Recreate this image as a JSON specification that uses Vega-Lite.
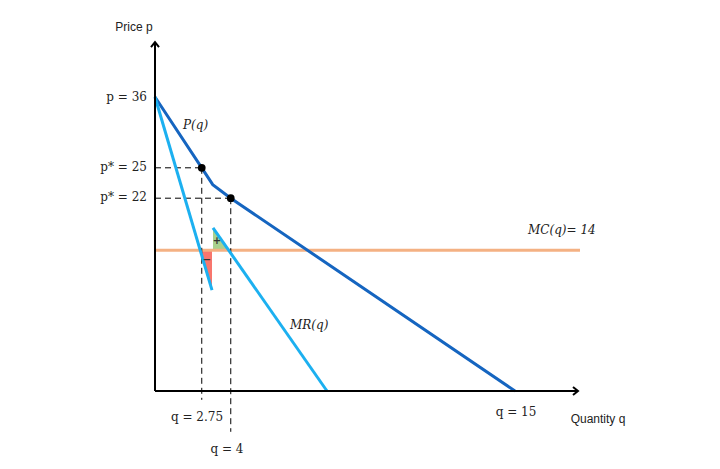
{
  "$schema": "https://vega.github.io/schema/vega-lite/v6.json",
  "width": 720,
  "height": 469,
  "autosize": "none",
  "padding": 0,
  "background": "white",
  "config": {"view": {"stroke": null}},
  "resolve": {"scale": {"color": "independent"}},
  "datasets": {
    "curves": [
      {"curve": "P", "i": 0, "q": 0, "p": 36.75},
      {"curve": "P", "i": 1, "q": 1.87, "p": 27.9},
      {"curve": "P", "i": 2, "q": 2.31, "p": 25.8},
      {"curve": "P", "i": 3, "q": 3.03, "p": 24.1},
      {"curve": "P", "i": 4, "q": 14.4, "p": 0},
      {"curve": "MR1", "i": 0, "q": 0, "p": 36.75},
      {"curve": "MR1", "i": 1, "q": 2.28, "p": 12.6},
      {"curve": "MR2", "i": 0, "q": 2.32, "p": 20.4},
      {"curve": "MR2", "i": 1, "q": 6.88, "p": 0}
    ],
    "mc": [
      {"q": 0, "p": 17.6},
      {"q": 17.0, "p": 17.6}
    ],
    "triangles": [
      {"tri": "loss", "q": 1.81, "p": 17.6, "p2": 17.6},
      {"tri": "loss", "q": 2.28, "p": 12.6, "p2": 17.6},
      {"tri": "gain", "q": 2.32, "p": 20.4, "p2": 17.6},
      {"tri": "gain", "q": 2.95, "p": 17.6, "p2": 17.6}
    ],
    "dashes": [
      {"q": 0, "p": 27.9, "q2": 1.87, "p2": 27.9},
      {"q": 0, "p": 24.1, "q2": 3.03, "p2": 24.1},
      {"q": 1.87, "p": 27.9, "q2": 1.87, "p2": -1.1},
      {"q": 3.03, "p": 24.1, "q2": 3.03, "p2": -5.1}
    ],
    "axes": [
      {"q": 0, "p": 0, "q2": 0, "p2": 43.6},
      {"q": 0, "p": 0, "q2": 16.92, "p2": 0}
    ],
    "arrows": [
      {"q": 0, "p": 43.6, "dir": 0},
      {"q": 16.92, "p": 0, "dir": 90}
    ],
    "dots": [
      {"q": 1.87, "p": 27.9},
      {"q": 3.03, "p": 24.1}
    ],
    "labels": [
      {"kind": "right", "text": "p = 36", "q": -0.32, "p": 36.75},
      {"kind": "right", "text": "p* = 25", "q": -0.32, "p": 28.0},
      {"kind": "right", "text": "p* = 22", "q": -0.32, "p": 24.25},
      {"kind": "center", "text": "q = 2.75", "q": 1.68, "p": -3.25},
      {"kind": "center", "text": "q = 4", "q": 2.88, "p": -7.25},
      {"kind": "center", "text": "q = 15", "q": 14.44, "p": -2.6},
      {"kind": "left", "text": "P(q)", "q": 1.12, "p": 33.25},
      {"kind": "left", "text": "MR(q)", "q": 5.4, "p": 8.25},
      {"kind": "left", "text": "MC(q)= 14", "q": 14.92, "p": 20.1},
      {"kind": "sans", "text": "Price p", "q": -0.84, "p": 45.5},
      {"kind": "sans", "text": "Quantity q", "q": 17.72, "p": -3.5},
      {"kind": "sign", "text": "+", "q": 2.48, "p": 18.7},
      {"kind": "sign", "text": "−", "q": 2.08, "p": 16.4}
    ]
  },
  "encoding": {
    "x": {"field": "q", "type": "quantitative", "scale": {"domain": [-6.2, 22.6], "nice": false, "zero": false}, "axis": null},
    "y": {"field": "p", "type": "quantitative", "scale": {"domain": [-9.75, 48.875], "nice": false, "zero": false}, "axis": null}
  },
  "layer": [
    {
      "data": {"name": "triangles"},
      "mark": {"type": "area", "opacity": 1},
      "encoding": {
        "y2": {"field": "p2"},
        "color": {"field": "tri", "type": "nominal", "scale": {"domain": ["loss", "gain"], "range": ["#F8766D", "#A9D18E"]}, "legend": null}
      }
    },
    {
      "data": {"name": "mc"},
      "mark": {"type": "line", "color": "#F4B183", "strokeWidth": 3},
      "encoding": {}
    },
    {
      "data": {"name": "dashes"},
      "mark": {"type": "rule", "color": "black", "strokeWidth": 1, "strokeDash": [6, 4]},
      "encoding": {"x2": {"field": "q2"}, "y2": {"field": "p2"}}
    },
    {
      "data": {"name": "curves"},
      "mark": {"type": "line", "strokeWidth": 3},
      "encoding": {
        "order": {"field": "i", "type": "quantitative"},
        "detail": {"field": "curve"},
        "color": {"field": "curve", "type": "nominal", "scale": {"domain": ["P", "MR1", "MR2"], "range": ["#1565C0", "#1CB0F0", "#1CB0F0"]}, "legend": null}
      }
    },
    {
      "data": {"name": "dots"},
      "mark": {"type": "point", "filled": true, "color": "black", "size": 60, "opacity": 1},
      "encoding": {}
    },
    {
      "data": {"name": "axes"},
      "mark": {"type": "rule", "color": "black", "strokeWidth": 2},
      "encoding": {"x2": {"field": "q2"}, "y2": {"field": "p2"}}
    },
    {
      "data": {"name": "arrows"},
      "mark": {"type": "point", "shape": "M-0.8,1 L0,0 L0.8,1", "filled": false, "color": "black", "strokeWidth": 2, "size": 100, "opacity": 1},
      "encoding": {"angle": {"field": "dir", "type": "quantitative", "scale": null}}
    },
    {
      "data": {"name": "labels"},
      "transform": [{"filter": "datum.kind == 'right'"}],
      "mark": {"type": "text", "align": "right", "baseline": "middle", "font": "DejaVu Serif", "fontSize": 12, "color": "#222"},
      "encoding": {"text": {"field": "text"}}
    },
    {
      "data": {"name": "labels"},
      "transform": [{"filter": "datum.kind == 'center'"}],
      "mark": {"type": "text", "align": "center", "baseline": "middle", "font": "DejaVu Serif", "fontSize": 12, "color": "#222"},
      "encoding": {"text": {"field": "text"}}
    },
    {
      "data": {"name": "labels"},
      "transform": [{"filter": "datum.kind == 'left'"}],
      "mark": {"type": "text", "align": "left", "baseline": "middle", "font": "DejaVu Serif", "fontStyle": "italic", "fontSize": 12, "color": "#222"},
      "encoding": {"text": {"field": "text"}}
    },
    {
      "data": {"name": "labels"},
      "transform": [{"filter": "datum.kind == 'sans'"}],
      "mark": {"type": "text", "align": "center", "baseline": "middle", "font": "Liberation Sans", "fontSize": 12, "color": "#222"},
      "encoding": {"text": {"field": "text"}}
    },
    {
      "data": {"name": "labels"},
      "transform": [{"filter": "datum.kind == 'sign'"}],
      "mark": {"type": "text", "align": "center", "baseline": "middle", "font": "DejaVu Sans", "fontWeight": "bold", "fontSize": 10, "color": "#333"},
      "encoding": {"text": {"field": "text"}}
    }
  ]
}
